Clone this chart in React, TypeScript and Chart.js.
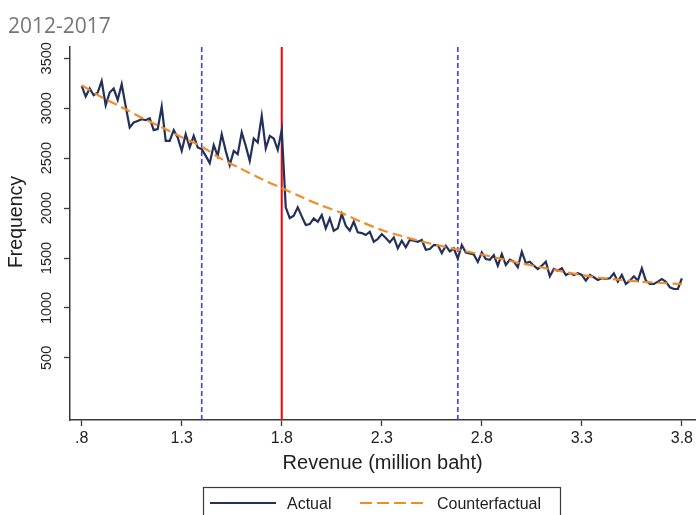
import React, { useEffect, useRef } from "react";
import { Chart, registerables } from "chart.js";

Chart.register(...registerables);

// Revenue bins (million baht): first bin centre and bin width
const BIN_START = 0.8;
const BIN_STEP = 0.02;

// Observed firm counts per revenue bin
const ACTUAL = [
  3223, 3117, 3197, 3130, 3157, 3273, 3030, 3157, 3197, 3083,
  3240, 3020, 2807, 2857, 2873, 2890, 2880, 2900, 2780, 2790,
  3017, 2673, 2673, 2780, 2707, 2573, 2740, 2607, 2723, 2607,
  2590, 2523, 2450, 2630, 2523, 2740, 2573, 2430, 2573, 2540,
  2757, 2623, 2473, 2697, 2657, 2923, 2597, 2723, 2697, 2583,
  2783, 2007, 1900, 1923, 2007, 1917, 1830, 1840, 1897, 1863,
  1930, 1797, 1897, 1773, 1797, 1940, 1823, 1773, 1863, 1757,
  1750, 1730, 1763, 1663, 1690, 1740, 1700, 1657, 1707, 1597,
  1673, 1607, 1680, 1673, 1663, 1680, 1583, 1590, 1630, 1630,
  1550, 1623, 1567, 1597, 1495, 1630, 1555, 1545, 1535, 1460,
  1557, 1490, 1483, 1530, 1423, 1540, 1430, 1483, 1463, 1407,
  1563, 1450, 1463, 1423, 1390, 1423, 1463, 1317, 1390, 1373,
  1397, 1330, 1350, 1330, 1347, 1330, 1273, 1330, 1307, 1280,
  1297, 1290, 1297, 1347, 1263, 1330, 1240, 1273, 1317, 1273,
  1397, 1273, 1240, 1240, 1263, 1290, 1263, 1207, 1190, 1190,
  1297,
];

// Counterfactual density (smooth fit), sampled every 0.1 million baht
const CF_X = [
  0.8, 0.9, 1.0, 1.1, 1.2, 1.3, 1.4, 1.5, 1.6, 1.7, 1.8,
  1.9, 2.0, 2.1, 2.2, 2.3, 2.4, 2.5, 2.6, 2.7, 2.8,
  2.9, 3.0, 3.1, 3.2, 3.3, 3.4, 3.5, 3.6, 3.7, 3.8,
];
const CF_Y = [
  3230, 3110, 3010, 2905, 2810, 2710, 2615, 2490, 2390, 2290, 2200,
  2110, 2025, 1950, 1860, 1780, 1720, 1665, 1620, 1575, 1535,
  1490, 1445, 1405, 1365, 1330, 1300, 1280, 1262, 1250, 1240,
];

const X_TICKS = [0.8, 1.3, 1.8, 2.3, 2.8, 3.3, 3.8];
const Y_TICKS = [500, 1000, 1500, 2000, 2500, 3000, 3500];

const THRESHOLD = 1.8;
const WINDOW_EDGES = [1.4, 2.68];

const SUBTITLE = "2012-2017";
const X_TITLE = "Revenue (million baht)";
const Y_TITLE = "Frequency";
const SERIES = ["Actual", "Counterfactual"];

const NAVY = "#22305a";
const ORANGE = "#f28c28";
const BLUE = "#3c3cff";
const AXIS = "#3a3a3a";
const TEXT = "#1e1e1e";
const SANS = '"Liberation Sans", Arial, sans-serif';

const fmtX = (v: number) => (v < 1 ? String(v).replace(/^0/, "") : v.toFixed(1));

const decor = {
  id: "decor",
  beforeDatasetsDraw(chart: any) {
    const { ctx, chartArea, scales } = chart;
    const { top, bottom } = chartArea;
    const x = scales.x;
    ctx.save();
    ctx.strokeStyle = BLUE;
    ctx.lineWidth = 1.6;
    ctx.setLineDash([5, 3]);
    WINDOW_EDGES.forEach((v) => {
      const px = x.getPixelForValue(v);
      ctx.beginPath();
      ctx.moveTo(px, top);
      ctx.lineTo(px, bottom);
      ctx.stroke();
    });
    ctx.setLineDash([]);
    ctx.strokeStyle = "#ff0000";
    ctx.lineWidth = 2;
    const pc = x.getPixelForValue(THRESHOLD);
    ctx.beginPath();
    ctx.moveTo(pc, top);
    ctx.lineTo(pc, bottom);
    ctx.stroke();
    ctx.restore();
  },
  afterDraw(chart: any) {
    const { ctx, scales } = chart;
    const y = scales.y;
    ctx.save();

    // rotated y tick labels
    ctx.fillStyle = TEXT;
    ctx.font = `14.5px ${SANS}`;
    ctx.textAlign = "center";
    ctx.textBaseline = "middle";
    y.ticks.forEach((t: any) => {
      const py = y.getPixelForValue(t.value);
      ctx.save();
      ctx.translate(47, py);
      ctx.rotate(-Math.PI / 2);
      ctx.fillText(String(t.value), 0, 0);
      ctx.restore();
    });

    // y axis title
    ctx.font = `19.5px ${SANS}`;
    ctx.save();
    ctx.translate(17, 222);
    ctx.rotate(-Math.PI / 2);
    ctx.fillText(Y_TITLE, 0, 0);
    ctx.restore();

    // subtitle
    ctx.font = '21px "Open Sans", sans-serif';
    ctx.fillStyle = "#767676";
    ctx.textAlign = "left";
    ctx.textBaseline = "alphabetic";
    ctx.fillText(SUBTITLE, 8, 33);

    // legend
    ctx.strokeStyle = AXIS;
    ctx.lineWidth = 1.2;
    ctx.strokeRect(203.5, 487.5, 357, 40);
    ctx.font = `16px ${SANS}`;
    ctx.fillStyle = TEXT;
    ctx.lineWidth = 2.2;
    ctx.strokeStyle = NAVY;
    ctx.beginPath();
    ctx.moveTo(210, 503);
    ctx.lineTo(276, 503);
    ctx.stroke();
    ctx.fillText(SERIES[0], 287, 508.5);
    ctx.strokeStyle = ORANGE;
    ctx.setLineDash([12, 5]);
    ctx.beginPath();
    ctx.moveTo(360, 503);
    ctx.lineTo(427, 503);
    ctx.stroke();
    ctx.setLineDash([]);
    ctx.fillText(SERIES[1], 437, 508.5);

    ctx.restore();
  },
};

export default function App() {
  const ref = useRef<HTMLCanvasElement | null>(null);

  useEffect(() => {
    document.body.style.margin = "0";
    const canvas = ref.current;
    if (!canvas) return;

    const actualPts = ACTUAL.map((v, i) => ({ x: BIN_START + i * BIN_STEP, y: v }));
    const cfPts = CF_X.map((x, i) => ({ x, y: CF_Y[i] }));

    const chart = new Chart(canvas, {
      type: "line",
      data: {
        datasets: [
          {
            label: SERIES[1],
            data: cfPts,
            borderColor: ORANGE,
            borderWidth: 2.2,
            borderDash: [10, 5],
            pointRadius: 0,
            tension: 0.3,
            fill: false,
          },
          {
            label: SERIES[0],
            data: actualPts,
            borderColor: NAVY,
            borderWidth: 2.2,
            pointRadius: 0,
            tension: 0,
            fill: false,
          },
        ],
      },
      options: {
        responsive: false,
        animation: false,
        devicePixelRatio: 1,
        layout: { padding: { top: 47, left: 0, right: 0, bottom: 0 } },
        plugins: {
          legend: { display: false },
          title: { display: false },
          tooltip: { enabled: false },
        },
        scales: {
          x: {
            type: "linear",
            min: 0.7416,
            max: 3.867,
            afterBuildTicks: (axis: any) => {
              axis.ticks = X_TICKS.map((v) => ({ value: v }));
            },
            afterFit: (axis: any) => {
              axis.height = 95;
            },
            ticks: {
              callback: (v: any) => fmtX(Number(v)),
              font: { family: SANS, size: 16 },
              color: TEXT,
              padding: 3,
              maxRotation: 0,
              autoSkip: false,
            },
            grid: {
              display: true,
              drawOnChartArea: false,
              drawTicks: true,
              tickLength: 6,
              tickColor: AXIS,
              tickWidth: 1.3,
            },
            border: { display: true, color: AXIS, width: 1.5 },
            title: {
              display: true,
              text: X_TITLE,
              font: { family: SANS, size: 20 },
              color: TEXT,
              padding: { top: 0, bottom: 40 },
            },
          },
          y: {
            type: "linear",
            min: -122,
            max: 3613,
            afterBuildTicks: (axis: any) => {
              axis.ticks = Y_TICKS.map((v) => ({ value: v }));
            },
            afterFit: (axis: any) => {
              axis.width = 70;
            },
            ticks: { display: false },
            grid: {
              display: true,
              drawOnChartArea: false,
              drawTicks: true,
              tickLength: 6,
              tickColor: AXIS,
              tickWidth: 1.3,
            },
            border: { display: true, color: AXIS, width: 1.5 },
          },
        },
      },
      plugins: [decor],
    } as any);

    return () => chart.destroy();
  }, []);

  return (
    <div style={{ width: 696, height: 515, position: "relative" }}>
      <canvas ref={ref} width={696} height={515} />
    </div>
  );
}
